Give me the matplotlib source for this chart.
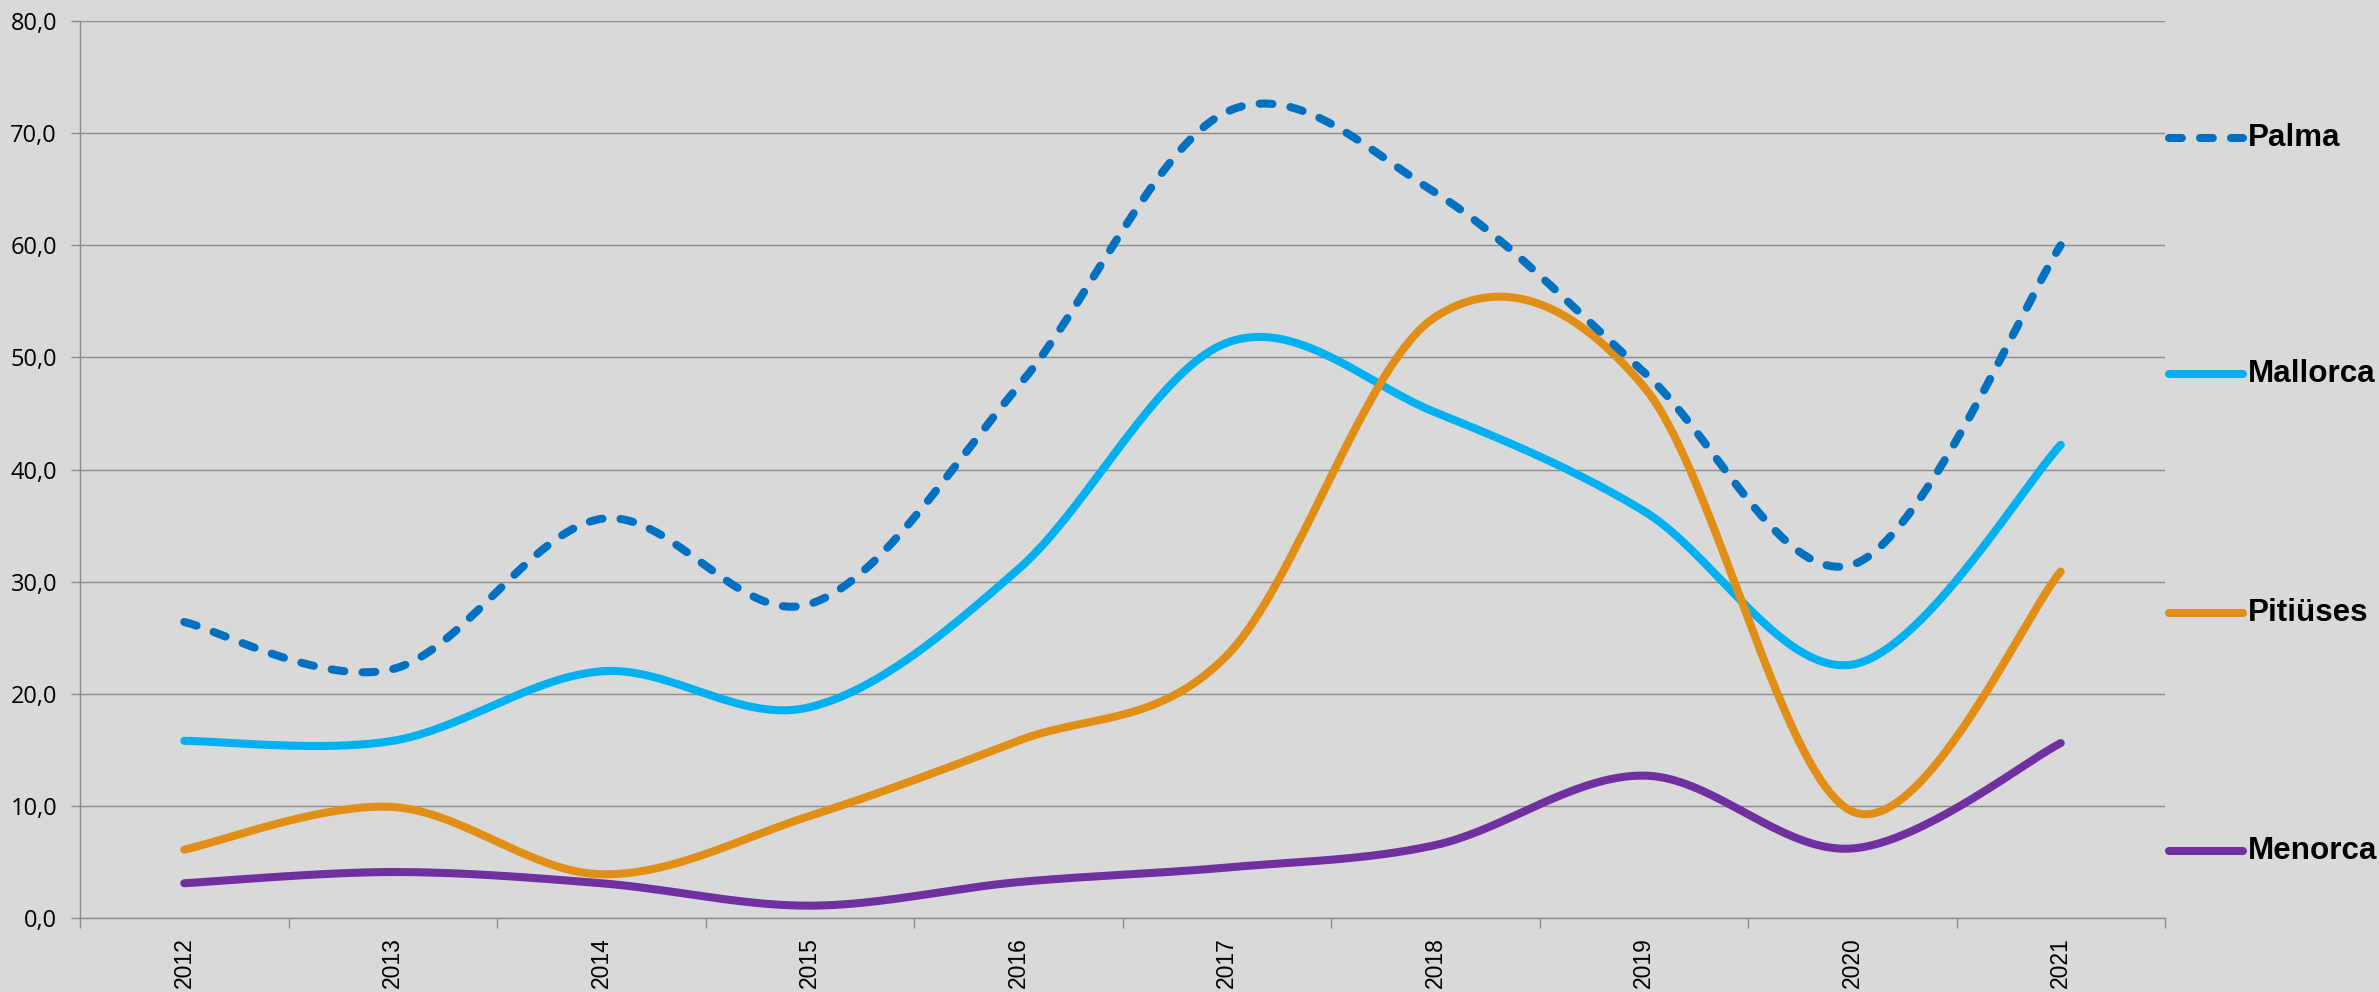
import numpy as np
import matplotlib
matplotlib.use('Agg')
from matplotlib import pyplot as plt
from matplotlib import transforms

years = ['2012', '2013', '2014', '2015', '2016', '2017', '2018', '2019', '2020', '2021']
palma = [26.4, 22.2, 35.6, 28.0, 47.4, 71.9, 64.7, 48.7, 31.5, 60.0]
mallorca = [15.8, 15.8, 22.0, 18.8, 31.1, 51.3, 45.1, 36.3, 22.6, 42.2]
pitiuses = [6.1, 9.9, 3.9, 9.1, 15.8, 23.4, 53.6, 47.4, 9.5, 30.9]
menorca = [3.1, 4.1, 3.1, 1.1, 3.2, 4.5, 6.5, 12.7, 6.2, 15.6]

series = [
    ('Palma', palma, '#0070C0', (0, (1.6, 2.25)), 5),
    ('Mallorca', mallorca, '#00B0F0', '-', 3),
    ('Pitiüses', pitiuses, '#E08E16', '-', 4),
    ('Menorca', menorca, '#7030A0', '-', 3),
]
legend_y = [69.6, 48.5, 27.2, 6.0]


def smooth(xs, ys, sx, sy, n=40):
    # excel-like smoothed line: bezier with catmull-rom control points (pixel space)
    p = np.column_stack([np.asarray(xs, float) * sx, np.asarray(ys, float) * sy])
    out = []
    t = np.linspace(0, 1, n)[:, None]
    for i in range(len(p) - 1):
        p0 = p[i - 1] if i > 0 else p[i]
        p1, p2 = p[i], p[i + 1]
        p3 = p[i + 2] if i + 2 < len(p) else p[i + 1]
        c1 = p1 + (p2 - p0) / 6.0
        c2 = p2 - (p3 - p1) / 6.0
        seg = ((1 - t) ** 3) * p1 + 3 * ((1 - t) ** 2) * t * c1 + 3 * (1 - t) * t ** 2 * c2 + t ** 3 * p2
        out.append(seg if i == 0 else seg[1:])
    out = np.vstack(out)
    return out[:, 0] / sx, out[:, 1] / sy


fig = plt.figure(figsize=(23.79, 9.92), dpi=100, facecolor='#D9D9D9')
ax = fig.add_axes([80 / 2379, 1 - 918 / 992, 2085 / 2379, 897 / 992])
ax.set_facecolor('#D9D9D9')

x = np.arange(len(years))
for name, vals, col, ls, z in series:
    sx_, sy_ = smooth(x, vals, 208.5, 11.2)
    ax.plot(sx_, sy_, color=col, linewidth=5.8, linestyle=ls,
            solid_capstyle='round', dash_capstyle='round', zorder=z)

ax.set_xlim(-0.5, len(years) - 0.5)
ax.set_ylim(0, 80)

grid = '#8C8C8C'
ax.set_yticks(np.arange(0, 81, 10))
ax.set_yticklabels([f'{v:.1f}'.replace('.', ',') for v in np.arange(0, 81, 10)],
                   fontsize=17, family='Open Sans')
ax.yaxis.grid(True, color=grid, linewidth=1.0, zorder=1)
ax.set_axisbelow(True)
ax.tick_params(axis='y', length=6.5, width=1.0, color=grid, pad=10, direction='out')

ax.set_xticks(np.arange(-0.5, len(years), 1))
ax.set_xticklabels([])
ax.set_xticks(x, minor=True)
ax.set_xticklabels(years, minor=True, rotation=90, fontsize=16.5, family='Liberation Sans')
ax.tick_params(axis='x', which='major', length=7, width=1.0, color=grid, direction='out')
ax.tick_params(axis='x', which='minor', length=0, pad=14)

for s in ['top', 'right']:
    ax.spines[s].set_visible(False)
for s in ['left', 'bottom']:
    ax.spines[s].set_color(grid)
    ax.spines[s].set_linewidth(1.0)

# legend on the right, aligned with the values
tr = transforms.blended_transform_factory(ax.transAxes, ax.transData)
for (name, vals, col, ls, z), ly in zip(series, legend_y):
    ax.plot([1.0019, 1.0374], [ly, ly], color=col, linewidth=5.8, linestyle=ls,
            solid_capstyle='round', dash_capstyle='round', transform=tr, clip_on=False)
    ax.text(1.0398, ly, name, transform=tr, fontsize=22.6, fontweight='bold',
            family='Liberation Sans', va='center', ha='left')

fig.savefig('out.png', dpi=100, facecolor=fig.get_facecolor())
